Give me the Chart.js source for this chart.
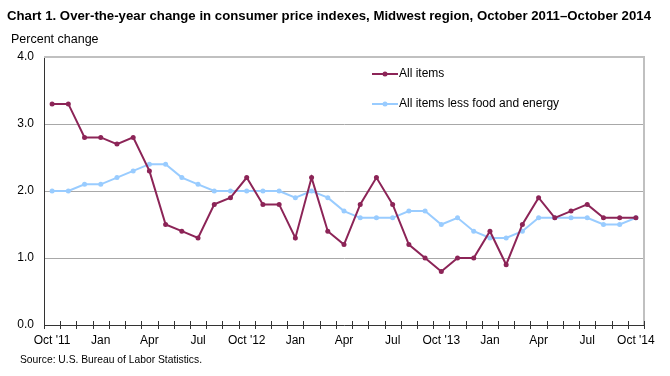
<!DOCTYPE html>
<html lang="en">
<head>
  <meta charset="UTF-8">
  <title>Chart 1 - CPI Midwest</title>
  <script src="https://cdn.jsdelivr.net/npm/chart.js"></script>
  <style>
    body { margin: 0; background: #fff; }
    #wrap { position: relative; width: 670px; height: 376px; font-family: "Liberation Sans", Arial, sans-serif; }
    #chart { position: absolute; left: 0; top: 0; }
    #title { position: absolute; left: 7px; top: 8px; font-weight: bold; font-size: 13.5px; white-space: nowrap; transform-origin: 0 0; }
    #ylabel { position: absolute; left: 11px; top: 32px; font-size: 12.5px; }
    #source { position: absolute; left: 20px; top: 354px; font-size: 10.3px; }
  </style>
</head>
<body>
  <div id="wrap">
    <canvas id="chart" width="670" height="376"></canvas>
    <div id="title">Chart 1. Over-the-year change in consumer price indexes, Midwest region, October 2011–October 2014</div>
    <div id="ylabel">Percent change</div>
    <div id="source">Source: U.S. Bureau of Labor Statistics.</div>
  </div>
  <script>
    // meses de out/2011 a out/2014
    const months = [
      "Oct '11", "Nov", "Dec", "Jan", "Feb", "Mar", "Apr", "May", "Jun", "Jul", "Aug", "Sep",
      "Oct '12", "Nov", "Dec", "Jan", "Feb", "Mar", "Apr", "May", "Jun", "Jul", "Aug", "Sep",
      "Oct '13", "Nov", "Dec", "Jan", "Feb", "Mar", "Apr", "May", "Jun", "Jul", "Aug", "Sep",
      "Oct '14"
    ];
    const allItems = [
      3.3, 3.3, 2.8, 2.8, 2.7, 2.8, 2.3, 1.5, 1.4, 1.3, 1.8, 1.9,
      2.2, 1.8, 1.8, 1.3, 2.2, 1.4, 1.2, 1.8, 2.2, 1.8, 1.2, 1.0,
      0.8, 1.0, 1.0, 1.4, 0.9, 1.5, 1.9, 1.6, 1.7, 1.8, 1.6, 1.6,
      1.6
    ];
    const coreItems = [
      2.0, 2.0, 2.1, 2.1, 2.2, 2.3, 2.4, 2.4, 2.2, 2.1, 2.0, 2.0,
      2.0, 2.0, 2.0, 1.9, 2.0, 1.9, 1.7, 1.6, 1.6, 1.6, 1.7, 1.7,
      1.5, 1.6, 1.4, 1.3, 1.3, 1.4, 1.6, 1.6, 1.6, 1.6, 1.5, 1.5,
      1.6
    ];
    const yTicks = [0, 1, 2, 3, 4];
    const seriesNames = ["All items", "All items less food and energy"];
    const colors = ["#8c2457", "#99ccff"];

    // título condensado: ajusta a largura ao original (fonte narrow não existe aqui)
    const title = document.getElementById("title");
    title.style.transform = "scaleX(" + (644 / title.scrollWidth) + ")";

    // moldura, marcas do eixo x e legenda dentro da área do gráfico
    const extras = {
      id: "extras",
      afterDraw(chart) {
        const { ctx, chartArea: a, scales } = chart;
        const x = scales.x;
        ctx.save();
        ctx.strokeStyle = "#c0c0c0";
        ctx.lineWidth = 2;
        ctx.beginPath();
        ctx.moveTo(a.left, a.top);
        ctx.lineTo(a.right, a.top);
        ctx.lineTo(a.right, a.bottom);
        ctx.stroke();

        ctx.strokeStyle = "#333";
        ctx.lineWidth = 1;
        const step = x.getPixelForValue(1) - x.getPixelForValue(0);
        for (let i = 0; i <= months.length; i++) {
          const px = Math.round(x.getPixelForValue(i) - step / 2) + 0.5;
          ctx.beginPath();
          ctx.moveTo(px, a.bottom - 4);
          ctx.lineTo(px, a.bottom + 4);
          ctx.stroke();
        }

        ctx.font = "12px 'Liberation Sans', Arial, sans-serif";
        ctx.textBaseline = "middle";
        const lx = 372, ly = [74, 104];
        seriesNames.forEach((name, i) => {
          ctx.strokeStyle = colors[i];
          ctx.fillStyle = colors[i];
          ctx.lineWidth = 2;
          ctx.beginPath();
          ctx.moveTo(lx, ly[i]);
          ctx.lineTo(lx + 26, ly[i]);
          ctx.stroke();
          ctx.beginPath();
          ctx.arc(lx + 13, ly[i], 2.5, 0, Math.PI * 2);
          ctx.fill();
          ctx.fillStyle = "#000";
          ctx.fillText(name, lx + 27, ly[i]);
        });
        ctx.restore();
      }
    };

    new Chart(document.getElementById("chart"), {
      type: "line",
      data: {
        labels: months,
        datasets: [
          { label: seriesNames[0], data: allItems, borderColor: colors[0], backgroundColor: colors[0],
            borderWidth: 2, pointRadius: 2.5, pointBorderWidth: 0, tension: 0 },
          { label: seriesNames[1], data: coreItems, borderColor: colors[1], backgroundColor: colors[1],
            borderWidth: 2, pointRadius: 2.5, pointBorderWidth: 0, tension: 0 }
        ]
      },
      options: {
        responsive: false,
        animation: false,
        layout: { padding: { left: 0, top: 57, right: 26, bottom: 0 } },
        plugins: { legend: { display: false }, tooltip: { enabled: false } },
        scales: {
          x: {
            offset: true,
            grid: { display: false, drawTicks: false },
            border: { color: "#333", width: 1 },
            ticks: {
              autoSkip: false, maxRotation: 0, padding: 8,
              color: "#000", font: { family: "'Liberation Sans', Arial, sans-serif", size: 12 },
              callback: (v, i) => (i % 3 === 0 ? months[i] : "")
            },
            afterFit: (s) => { s.height = 51; }
          },
          y: {
            min: 0, max: 4,
            afterBuildTicks: (s) => { s.ticks = yTicks.map(v => ({ value: v })); },
            grid: {
              drawTicks: false,
              color: (c) => (c.tick && (c.tick.value === 0 || c.tick.value === 4) ? "rgba(0,0,0,0)" : "#a8a8a8")
            },
            border: { color: "#333", width: 1 },
            ticks: {
              padding: 10, color: "#000",
              font: { family: "'Liberation Sans', Arial, sans-serif", size: 12 },
              callback: (v) => v.toFixed(1)
            },
            afterFit: (s) => { s.width = 44; }
          }
        }
      },
      plugins: [extras]
    });
  </script>
</body>
</html>
